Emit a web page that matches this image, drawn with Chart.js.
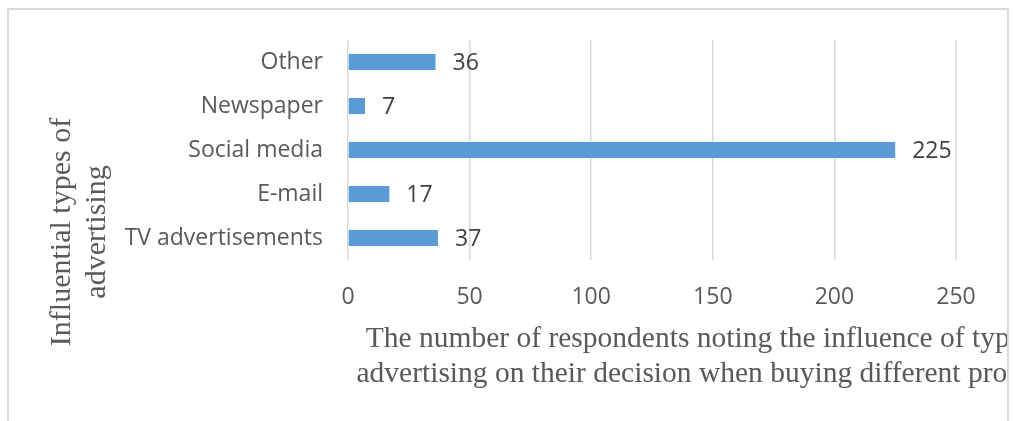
<!DOCTYPE html>
<html>
<head>
<meta charset="utf-8">
<script src="https://cdn.jsdelivr.net/npm/chart.js@4.4.1/dist/chart.umd.min.js"></script>
<style>
  html, body { margin: 0; padding: 0; background: #fff; }
  #frame {
    position: absolute; left: 7px; top: 8px; width: 998px; height: 420px;
    border: 2px solid #d9d9d9; border-bottom: none; overflow: hidden;
  }
  #chart { position: absolute; left: -9px; top: -10px; }
</style>
</head>
<body>
<div id="frame"><canvas id="chart" width="1013" height="421"></canvas></div>
<script>
var categories = ['Other', 'Newspaper', 'Social media', 'E-mail', 'TV advertisements'];
var respondents = [36, 7, 225, 17, 37];
var xTicks = [0, 50, 100, 150, 200, 250];
var xTitle = ['The number of respondents noting the influence of types of',
              'advertising on their decision when buying different products'];
var yTitle = ['Influential types of', 'advertising'];

var sansFont = '"Open Sans", sans-serif';
var serifFont = '"Liberation Serif", "Times New Roman", serif';

// value labels at the end of each bar
var barLabels = {
  id: 'barLabels',
  afterDatasetsDraw: function(chart) {
    var ctx = chart.ctx;
    var meta = chart.getDatasetMeta(0);
    ctx.save();
    ctx.font = '23px ' + sansFont;
    ctx.fillStyle = '#404040';
    ctx.textAlign = 'left';
    ctx.textBaseline = 'middle';
    meta.data.forEach(function(bar, i) {
      ctx.fillText(String(respondents[i]), bar.x + 17, bar.y + 1);
    });
    ctx.restore();
  }
};

// axis titles, placed like the Excel original (off-centre, clipped on the right)
var axisTitles = {
  id: 'axisTitles',
  afterDraw: function(chart) {
    var ctx = chart.ctx;
    ctx.save();
    ctx.fillStyle = '#595959';
    ctx.textAlign = 'center';
    ctx.textBaseline = 'alphabetic';
    ctx.font = '29.5px ' + serifFont;
    ctx.fillText(xTitle[0], 716, 347);
    ctx.fillText(xTitle[1], 713, 382);

    ctx.font = '30px ' + serifFont;
    ctx.translate(70, 232);
    ctx.rotate(-Math.PI / 2);
    ctx.fillText(yTitle[0], 0, 0);
    ctx.fillText(yTitle[1], 0, 35);
    ctx.restore();
  }
};

var ctx = document.getElementById('chart');
var chart = new Chart(ctx, {
  type: 'bar',
  data: {
    labels: categories,
    datasets: [{
      data: respondents,
      backgroundColor: '#5B9BD5',
      borderWidth: 0,
      barPercentage: 0.364,
      categoryPercentage: 1
    }]
  },
  options: {
    indexAxis: 'y',
    responsive: false,
    animation: false,
    devicePixelRatio: 1,
    layout: { padding: { top: 40, right: 57, left: 0, bottom: 0 } },
    plugins: {
      legend: { display: false },
      tooltip: { enabled: false }
    },
    scales: {
      x: {
        min: 0,
        max: 250,
        afterBuildTicks: function(scale) {
          scale.ticks = xTicks.map(function(v) { return { value: v }; });
        },
        afterFit: function(scale) { scale.height = 161; },
        ticks: {
          color: '#595959',
          font: { family: sansFont, size: 23 },
          padding: 24,
          maxRotation: 0
        },
        grid: { color: '#d9d9d9', lineWidth: 1.5, drawTicks: false },
        border: { display: false }
      },
      y: {
        afterFit: function(scale) { scale.width = 348; },
        ticks: {
          color: '#595959',
          font: { family: sansFont, size: 23 },
          padding: 17
        },
        grid: { display: false },
        border: { display: false }
      }
    }
  },
  plugins: [barLabels, axisTitles]
});
</script>
</body>
</html>
